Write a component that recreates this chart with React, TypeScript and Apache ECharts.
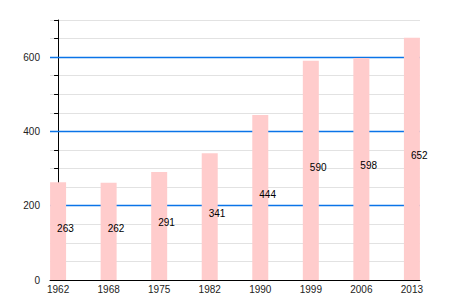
import React, { useEffect, useRef } from "react";
import * as echarts from "echarts";

const categories = ["1962", "1968", "1975", "1982", "1990", "1999", "2006", "2013"];
const values = [263, 262, 291, 341, 444, 590, 598, 652];
const yMajorTicks = [0, 200, 400, 600];

export default function App() {
  const ref = useRef<HTMLDivElement>(null);
  useEffect(() => {
    if (!ref.current) return;
    const chart = echarts.init(ref.current, null, { renderer: "svg" });
    const font = "'Liberation Sans', Arial, sans-serif";
    chart.setOption({
      animation: false,
      grid: { left: 50, right: 30, top: 20, bottom: 20, containLabel: false },
      xAxis: {
        type: "value",
        min: -0.16,
        max: 7.16,
        axisLine: { show: true, onZero: false, lineStyle: { color: "#000", width: 1 } },
        axisTick: { show: false },
        splitLine: { show: false },
        axisLabel: {
          margin: 4,
          color: "#222",
          fontSize: 10,
          fontFamily: font,
          customValues: categories.map((_, i) => i),
          formatter: (v: number) => {
            const i = Math.round(v);
            return categories[i] ?? "";
          },
        },
      },
      yAxis: {
        type: "value",
        min: 0,
        max: 700,
        interval: 50,
        axisLine: { show: true, lineStyle: { color: "#000", width: 1 } },
        axisTick: { show: true, length: 4, lineStyle: { color: "#000" } },
        axisLabel: {
          margin: 10,
          color: "#222",
          fontSize: 10,
          fontFamily: font,
          formatter: (v: number) => (yMajorTicks.includes(v) ? String(v) : ""),
        },
        splitLine: { show: true, lineStyle: { color: "#e2e2e2", width: 1 } },
      },
      series: [
        {
          type: "line",
          silent: true,
          z: 1,
          data: [],
          markLine: {
            silent: true,
            z: 1,
            symbol: ["none", "none"],
            label: { show: false },
            lineStyle: { color: "#0a74e8", width: 1.4, type: "solid", opacity: 1 },
            data: yMajorTicks.filter((v) => v > 0).map((v) => ({ yAxis: v })),
          },
        },
        {
          type: "bar",
          barWidth: 16,
          z: 3,
          itemStyle: { color: "#ffcccc" },
          data: values.map((v, i) => [i, v]),
          label: {
            show: true,
            position: ["50%", "50%"],
            align: "left",
            verticalAlign: "middle",
            offset: [-1, -3],
            color: "#000",
            fontSize: 10,
            fontFamily: font,
            formatter: (p: any) => String(p.value[1]),
          },
        },
      ],
    });
    return () => chart.dispose();
  }, []);
  return (
    <div
      ref={ref}
      style={{ position: "fixed", left: 0, top: 0, width: 450, height: 300, background: "#fff" }}
    />
  );
}
